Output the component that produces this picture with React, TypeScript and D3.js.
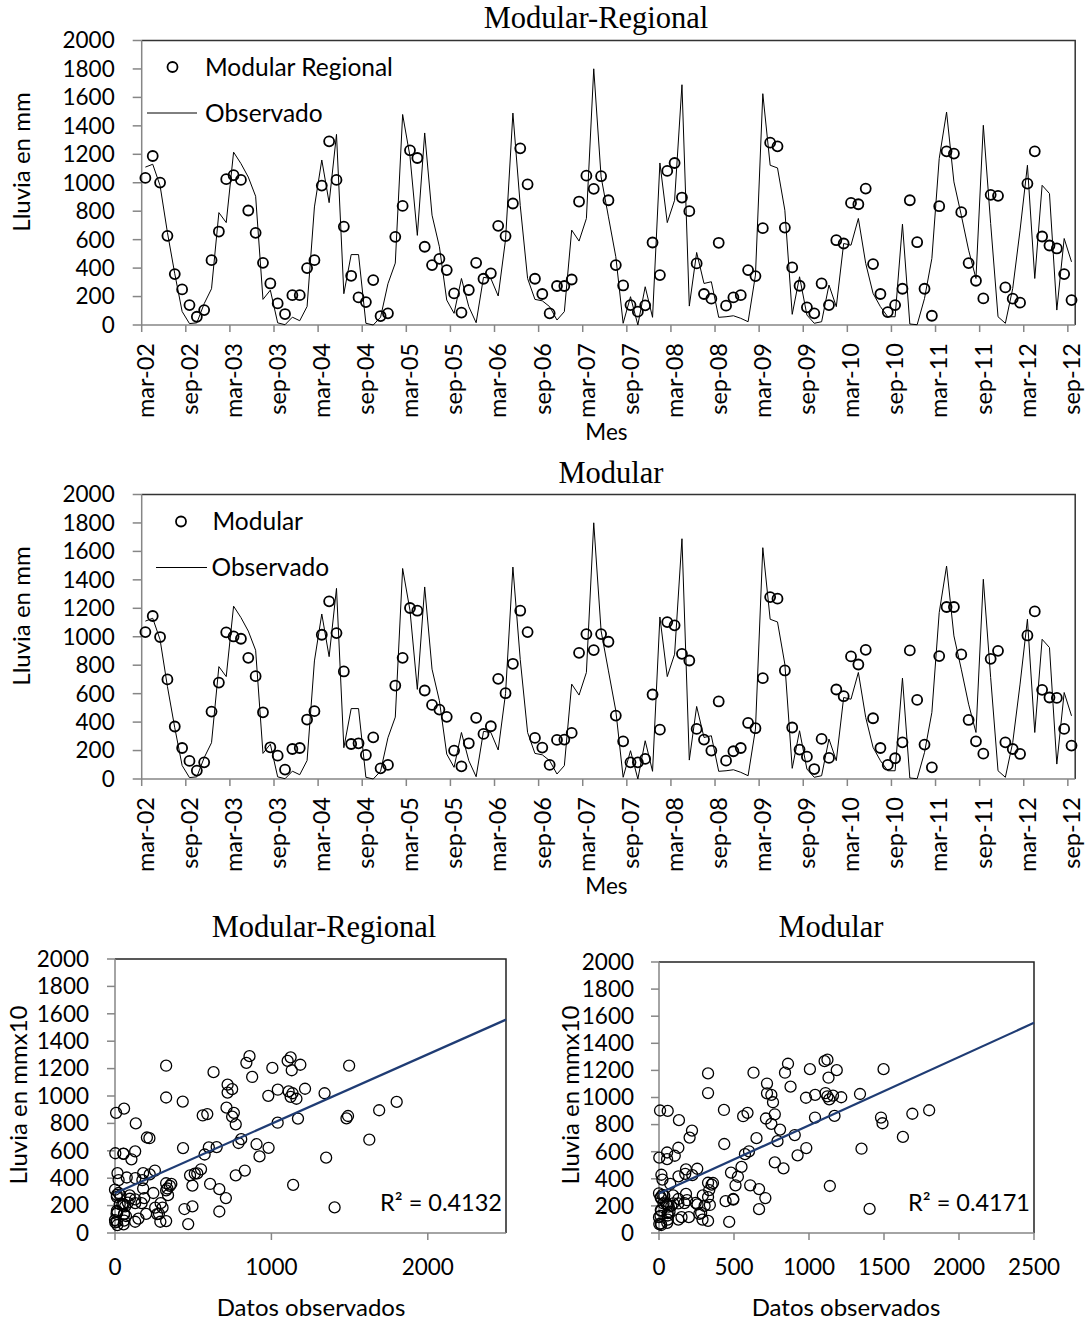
import React, { useEffect, useRef } from "react";
import * as d3 from "d3";

// meses para las etiquetas del eje x (serie empieza en mar-02)
const MESES = ["ene", "feb", "mar", "abr", "may", "jun", "jul", "ago", "sep", "oct", "nov", "dic"];
const MES_INICIO = 2;
const ANIO_INICIO = 2002;

// lluvia observada, mm
const observado = [
  1110, 1130, 980, 650, 360, 95, 10, 15, 150, 255, 790, 720, 1215, 1135, 1040, 905,
  180, 245, 15, 2, 55, 30, 130, 830, 1160, 860, 1340, 220, 495, 495, 12, 0,
  55, 290, 435, 1480, 1185, 630, 1350, 772, 550, 175, 82, 327, 129, 16, 335, 327,
  204, 600, 1490, 840, 327, 180, 170, 129, 35, 94, 667, 590, 749, 1801, 1041, 760,
  480, 12, 199, 0, 269, 54, 1139, 720, 877, 1689, 133, 510, 292, 304, 54, 58,
  65, 47, 23, 351, 1626, 1123, 1104, 807, 75, 339, 70, 12, 23, 281, 129, 573,
  561, 749, 433, 222, 129, 58, 58, 709, 7, 2, 187, 468, 1170, 1497, 1006, 772,
  526, 327, 1404, 713, 58, 12, 257, 667, 1123, 327, 982, 924, 105, 608, 444,
];

// modelo modular-regional
const modularRegional = [
  1034, 1188, 1001, 627, 358, 250, 140, 58, 105, 456, 657, 1025, 1053, 1020, 805, 648,
  437, 292, 152, 77, 210, 210, 400, 456, 980, 1291, 1020, 692, 346, 194, 161, 316,
  63, 82, 620, 837, 1228, 1174, 550, 421, 465, 386, 222, 87, 246, 437, 325, 363,
  697, 625, 854, 1242, 989, 325, 218, 82, 274, 274, 320, 868, 1050, 957, 1046, 877,
  421, 278, 140, 94, 138, 580, 351, 1083, 1139, 896, 800, 433, 218, 185, 578, 136,
  194, 210, 386, 344, 681, 1282, 1256, 685, 405, 276, 124, 82, 292, 140, 596, 573,
  858, 849, 959, 428, 218, 91, 140, 255, 877, 582, 255, 65, 835, 1221, 1205, 793,
  435, 311, 187, 915, 908, 264, 185, 157, 994, 1221, 622, 559, 538, 358, 175,
];

// modelo modular
const modular = [
  1033, 1146, 998, 700, 369, 218, 127, 59, 117, 474, 678, 1031, 1002, 986, 852, 723,
  469, 223, 164, 66, 211, 218, 418, 477, 1014, 1249, 1026, 756, 246, 251, 169, 293,
  75, 99, 657, 852, 1202, 1183, 622, 521, 488, 437, 200, 89, 251, 430, 317, 371,
  704, 603, 810, 1183, 1033, 289, 221, 99, 275, 277, 324, 887, 1019, 906, 1019, 965,
  446, 265, 117, 117, 141, 594, 347, 1103, 1080, 880, 833, 352, 277, 200, 545, 129,
  195, 218, 394, 357, 709, 1279, 1268, 763, 362, 207, 157, 70, 282, 148, 629, 582,
  862, 805, 908, 427, 218, 99, 146, 258, 904, 556, 242, 82, 864, 1209, 1209, 876,
  415, 265, 178, 845, 901, 258, 211, 176, 1009, 1178, 627, 573, 570, 352, 235,
];

const yTicks = [0, 200, 400, 600, 800, 1000, 1200, 1400, 1600, 1800, 2000];
const xTicksMR = [0, 1000, 2000];
const xTicksM = [0, 500, 1000, 1500, 2000, 2500];

// linea de tendencia
const tendenciaMR = { b: 290, m: 0.507, r2: "0.4132" };
const tendenciaM = { b: 291, m: 0.504, r2: "0.4171" };

const SANS = "Lato, 'Open Sans', sans-serif";
const SERIF = "'Liberation Serif', 'Times New Roman', serif";
const GRIS = "#868686";

const fechas = observado.map((_, i) => {
    const t = MES_INICIO + i;
    const anio = (ANIO_INICIO + Math.floor(t / 12)) % 100;
    return `${MESES[t % 12]}-${String(anio).padStart(2, "0")}`;
});

function drawSerie(svg, cfg) {
    const { left, right, top, bottom, modelo, titulo, tituloY, nombre, leyenda } = cfg;
    const x = d3.scaleBand().domain(d3.range(observado.length)).range([left, right]);
    const cx = i => x(i) + x.bandwidth() / 2;
    const y = d3.scaleLinear().domain([0, 2000]).range([bottom, top]);

    const g = svg.append("g");

    // borde superior y derecho
    g.append("path")
        .attr("d", `M${left},${top}H${right}V${bottom}`)
        .attr("fill", "none").attr("stroke", "#333").attr("stroke-width", 1.5);

    // eje y
    g.append("line").attr("x1", left).attr("x2", left).attr("y1", top).attr("y2", bottom)
        .attr("stroke", GRIS).attr("stroke-width", 1.5);
    g.selectAll(".ty").data(yTicks).enter().append("line")
        .attr("x1", left - 9).attr("x2", left).attr("y1", d => y(d)).attr("y2", d => y(d))
        .attr("stroke", GRIS).attr("stroke-width", 1.5);
    g.selectAll(".ly").data(yTicks).enter().append("text")
        .attr("x", left - 27).attr("y", d => y(d)).attr("dy", "0.35em")
        .attr("text-anchor", "end").attr("font-family", SANS).attr("font-size", 22.5)
        .text(d => d);

    // eje x
    g.append("line").attr("x1", left).attr("x2", right).attr("y1", bottom).attr("y2", bottom)
        .attr("stroke", GRIS).attr("stroke-width", 1.5);
    const idx = d3.range(0, observado.length, 6);
    g.selectAll(".tx").data(idx).enter().append("line")
        .attr("x1", d => x(d)).attr("x2", d => x(d)).attr("y1", bottom).attr("y2", bottom + 7)
        .attr("stroke", GRIS).attr("stroke-width", 1.5);
    g.selectAll(".lx").data(idx).enter().append("text")
        .attr("transform", d => `translate(${cx(d)},${bottom + 18}) rotate(-90)`)
        .attr("dy", "0.35em").attr("text-anchor", "end")
        .attr("font-family", SANS).attr("font-size", 23.5)
        .text(d => fechas[d]);

    // observado
    g.append("path").datum(observado)
        .attr("d", d3.line().x((d, i) => cx(i)).y(d => y(d)))
        .attr("fill", "none").attr("stroke", "#000").attr("stroke-width", 1);

    // modelo
    g.selectAll(".pt").data(modelo).enter().append("circle")
        .attr("cx", (d, i) => cx(i)).attr("cy", d => y(d)).attr("r", 5)
        .attr("fill", "none").attr("stroke", "#000").attr("stroke-width", 1.8);

    // titulos
    g.append("text").attr("x", titulo.x).attr("y", titulo.y).attr("text-anchor", "middle")
        .attr("font-family", SERIF).attr("font-size", 30.5).text(titulo.texto);
    g.append("text").attr("x", (left + right) / 2 - 2).attr("y", bottom + 107)
        .attr("dy", "0.35em").attr("text-anchor", "middle")
        .attr("font-family", SANS).attr("font-size", 22.5).text("Mes");
    g.append("text").attr("transform", `translate(22,${tituloY}) rotate(-90)`)
        .attr("dy", "0.35em").attr("text-anchor", "middle")
        .attr("font-family", SANS).attr("font-size", 24).text("Lluvia en mm");

    // leyenda
    g.append("circle").attr("cx", leyenda.cx).attr("cy", leyenda.cy).attr("r", 5)
        .attr("fill", "none").attr("stroke", "#000").attr("stroke-width", 1.8);
    g.append("text").attr("x", leyenda.tx).attr("y", leyenda.cy).attr("dy", "0.35em")
        .attr("font-family", SANS).attr("font-size", 24.5).text(nombre);
    g.append("line").attr("x1", leyenda.lx1).attr("x2", leyenda.lx2)
        .attr("y1", leyenda.ly).attr("y2", leyenda.ly).attr("stroke", "#000").attr("stroke-width", 1);
    g.append("text").attr("x", leyenda.tx2).attr("y", leyenda.ly).attr("dy", "0.35em")
        .attr("font-family", SANS).attr("font-size", 24.5).text("Observado");
}

function drawDispersion(svg, cfg) {
    const { left, right, top, bottom, modelo, xTicks, tendencia, titulo, labelX, labelTicks, ejeX } = cfg;
    const x = d3.scaleLinear().domain([0, 2500]).range([left, right]);
    const y = d3.scaleLinear().domain([0, 2000]).range([bottom, top]);
    const g = svg.append("g");

    g.append("path")
        .attr("d", `M${left},${top}H${right}V${bottom}`)
        .attr("fill", "none").attr("stroke", "#222").attr("stroke-width", 1.5);

    g.append("line").attr("x1", left).attr("x2", left).attr("y1", top).attr("y2", bottom)
        .attr("stroke", GRIS).attr("stroke-width", 1.5);
    g.selectAll(".ty").data(yTicks).enter().append("line")
        .attr("x1", left - 8).attr("x2", left).attr("y1", d => y(d)).attr("y2", d => y(d))
        .attr("stroke", GRIS).attr("stroke-width", 1.5);
    g.selectAll(".ly").data(yTicks).enter().append("text")
        .attr("x", labelTicks).attr("y", d => y(d)).attr("dy", "0.35em")
        .attr("text-anchor", "end").attr("font-family", SANS).attr("font-size", 22.5)
        .text(d => d);

    g.append("line").attr("x1", left).attr("x2", right).attr("y1", bottom).attr("y2", bottom)
        .attr("stroke", GRIS).attr("stroke-width", 1.5);
    g.selectAll(".tx").data(xTicks).enter().append("line")
        .attr("x1", d => x(d)).attr("x2", d => x(d)).attr("y1", bottom).attr("y2", bottom + 7)
        .attr("stroke", GRIS).attr("stroke-width", 1.5);
    g.selectAll(".lx").data(xTicks).enter().append("text")
        .attr("x", d => x(d)).attr("y", bottom + 34).attr("dy", "0.35em")
        .attr("text-anchor", "middle").attr("font-family", SANS).attr("font-size", 22.5)
        .text(d => d);

    // puntos observado vs modelo
    g.selectAll(".pt").data(observado).enter().append("circle")
        .attr("cx", d => x(d)).attr("cy", (d, i) => y(modelo[i])).attr("r", 5.5)
        .attr("fill", "none").attr("stroke", "#000").attr("stroke-width", 1.3);

    g.append("line")
        .attr("x1", x(0)).attr("y1", y(tendencia.b))
        .attr("x2", x(2500)).attr("y2", y(tendencia.b + tendencia.m * 2500))
        .attr("stroke", "#1F3C74").attr("stroke-width", 2.2);

    g.append("text").attr("x", right - 4).attr("y", 1203).attr("dy", "0.35em")
        .attr("text-anchor", "end").attr("font-family", SANS).attr("font-size", 23.5)
        .text(`R² = ${tendencia.r2}`);

    g.append("text").attr("x", titulo.x).attr("y", 937).attr("text-anchor", "middle")
        .attr("font-family", SERIF).attr("font-size", 30.5).text(titulo.texto);
    g.append("text").attr("x", ejeX).attr("y", 1308).attr("dy", "0.35em")
        .attr("text-anchor", "middle").attr("font-family", SANS).attr("font-size", 24)
        .text("Datos observados");
    g.append("text").attr("transform", `translate(${labelX},1095) rotate(-90)`)
        .attr("dy", "0.35em").attr("text-anchor", "middle")
        .attr("font-family", SANS).attr("font-size", 24).text("Lluvia en mmx10");
}

const App = () => {
    const svgRef = useRef(null);

    useEffect(() => {
        const svg = d3.select(svgRef.current);
        svg.selectAll("*").remove();

        drawSerie(svg, {
            left: 141.7, right: 1075.2, top: 40.5, bottom: 325,
            modelo: modularRegional, nombre: "Modular Regional", tituloY: 162,
            titulo: { texto: "Modular-Regional", x: 596, y: 28 },
            leyenda: { cx: 172.5, cy: 67, tx: 205, lx1: 147, lx2: 197, ly: 113, tx2: 205 },
        });
        drawSerie(svg, {
            left: 141.7, right: 1075.2, top: 494.5, bottom: 779,
            modelo: modular, nombre: "Modular", tituloY: 616,
            titulo: { texto: "Modular", x: 611, y: 483 },
            leyenda: { cx: 181, cy: 521.5, tx: 212.5, lx1: 156, lx2: 207, ly: 567.5, tx2: 211.5 },
        });
        drawDispersion(svg, {
            left: 115, right: 506, top: 959, bottom: 1233,
            modelo: modularRegional, xTicks: xTicksMR, tendencia: tendenciaMR,
            titulo: { texto: "Modular-Regional", x: 324 }, labelX: 19, labelTicks: 89, ejeX: 311,
        });
        drawDispersion(svg, {
            left: 659, right: 1034, top: 962, bottom: 1233,
            modelo: modular, xTicks: xTicksM, tendencia: tendenciaM,
            titulo: { texto: "Modular", x: 831 }, labelX: 571, labelTicks: 634, ejeX: 846,
        });
    }, []);

    return (
        <svg
            ref={svgRef}
            width={1088}
            height={1324}
            style={{ position: "absolute", left: 0, top: 0, background: "#fff" }}
        />
    );
};

export default App;
